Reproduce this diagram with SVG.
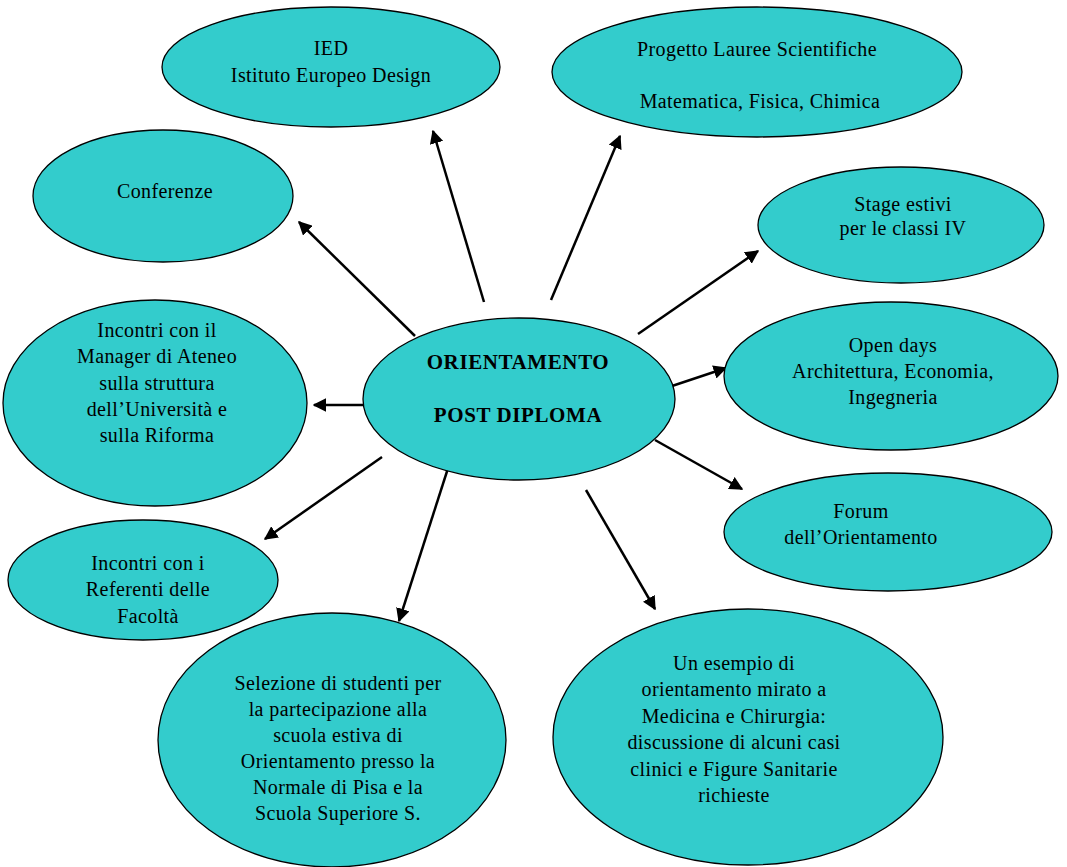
<svg xmlns="http://www.w3.org/2000/svg" width="1067" height="867" viewBox="0 0 1067 867">
<style>
.n ellipse{fill:#33CCCC;stroke:#000;stroke-width:1.3}
.n text{font-family:"Liberation Serif","Times New Roman",serif;font-size:20px;fill:#000;text-anchor:middle;letter-spacing:0.4px}
.c line{stroke:#000;stroke-width:2.5;marker-end:url(#ah)}
.b text{font-weight:bold;font-size:21px;letter-spacing:0.6px}
</style>
<defs>
<marker id="ah" viewBox="0 0 10 10" refX="9" refY="5" markerWidth="5.5" markerHeight="5.5" orient="auto" markerUnits="strokeWidth">
<path d="M0,0 L10,5 L0,10 z" fill="#000"/>
</marker>
</defs>
<rect width="1067" height="867" fill="#fff"/>
<g class="c" id="connectors">
<line x1="415" y1="336" x2="299" y2="222"/>
<line x1="484" y1="302" x2="433" y2="131"/>
<line x1="551" y1="300" x2="620" y2="136"/>
<line x1="638" y1="334" x2="758" y2="251"/>
<line x1="672" y1="386" x2="726" y2="368"/>
<line x1="363" y1="405" x2="314" y2="405"/>
<line x1="655" y1="440" x2="742" y2="489"/>
<line x1="382" y1="457" x2="265" y2="539"/>
<line x1="450" y1="462" x2="399" y2="621"/>
<line x1="586" y1="490" x2="655" y2="609"/>
</g>
<g class="n" id="n-ied">
<ellipse cx="331" cy="67" rx="169" ry="60"/>
<text x="331" y="55">IED</text>
<text x="331" y="82">Istituto Europeo Design</text>
</g>
<g class="n" id="n-lauree">
<ellipse cx="757" cy="72" rx="205" ry="65"/>
<text x="757" y="56">Progetto Lauree Scientifiche</text>
<text x="760" y="108">Matematica, Fisica, Chimica</text>
</g>
<g class="n" id="n-conferenze">
<ellipse cx="163" cy="196" rx="130" ry="66"/>
<text x="165" y="198">Conferenze</text>
</g>
<g class="n" id="n-stage">
<ellipse cx="901" cy="225" rx="143" ry="58"/>
<text x="903" y="211">Stage estivi</text>
<text x="903" y="235">per le classi IV</text>
</g>
<g class="n" id="n-open">
<ellipse cx="891" cy="376" rx="167" ry="74"/>
<text x="893" y="352">Open days</text>
<text x="893" y="378">Architettura, Economia,</text>
<text x="893" y="404">Ingegneria</text>
</g>
<g class="n" id="n-manager">
<ellipse cx="155" cy="403" rx="152" ry="103"/>
<text x="157" y="337">Incontri con il</text>
<text x="157" y="363">Manager di Ateneo</text>
<text x="157" y="390">sulla struttura</text>
<text x="157" y="416">dell’Università e</text>
<text x="157" y="442">sulla Riforma</text>
</g>
<g class="n b" id="n-center">
<ellipse cx="519" cy="399" rx="156" ry="81"/>
<text x="518" y="369">ORIENTAMENTO</text>
<text x="518" y="422">POST DIPLOMA</text>
</g>
<g class="n" id="n-forum">
<ellipse cx="888" cy="532" rx="164" ry="59"/>
<text x="861" y="518">Forum</text>
<text x="861" y="544">dell’Orientamento</text>
</g>
<g class="n" id="n-referenti">
<ellipse cx="143" cy="580" rx="135" ry="60"/>
<text x="148" y="570">Incontri con i</text>
<text x="148" y="596">Referenti delle</text>
<text x="148" y="623">Facoltà</text>
</g>
<g class="n" id="n-selezione">
<ellipse cx="332" cy="740" rx="174" ry="127"/>
<text x="338" y="690">Selezione di studenti per</text>
<text x="338" y="716">la partecipazione alla</text>
<text x="338" y="742">scuola estiva di</text>
<text x="338" y="768">Orientamento presso la</text>
<text x="338" y="794">Normale di Pisa e la</text>
<text x="338" y="820">Scuola Superiore S.</text>
</g>
<g class="n" id="n-esempio">
<ellipse cx="748" cy="737" rx="195" ry="128"/>
<text x="734" y="670">Un esempio di</text>
<text x="734" y="696">orientamento mirato a</text>
<text x="734" y="723">Medicina e Chirurgia:</text>
<text x="734" y="749">discussione di alcuni casi</text>
<text x="734" y="776">clinici e Figure Sanitarie</text>
<text x="734" y="802">richieste</text>
</g>
</svg>
